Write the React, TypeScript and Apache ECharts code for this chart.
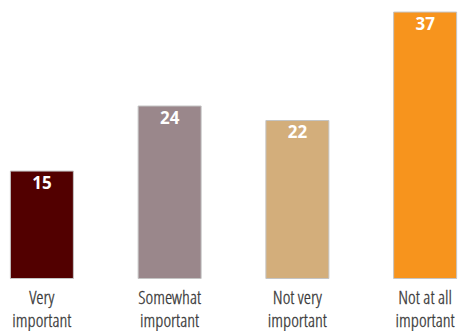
import React, { useEffect, useRef } from "react";
import * as echarts from "echarts";

const categories = ["Very\nimportant", "Somewhat\nimportant", "Not very\nimportant", "Not at all\nimportant"];
const values = [15, 24, 22, 37];
const colors = ["#520000", "#9a878b", "#d3ae7b", "#f7941d"];

export default function App() {
  const ref = useRef<HTMLDivElement>(null);
  useEffect(() => {
    const chart = echarts.init(ref.current!, null, { renderer: "svg" });
    chart.setOption({
      animation: false,
      grid: { left: -22, right: -31, top: 0, bottom: 52, containLabel: false, outerBoundsMode: "none" },
      xAxis: {
        type: "category",
        data: categories,
        axisLine: { show: false },
        axisTick: { show: false },
        axisLabel: {
          color: "#383838",
          fontSize: 18.5,
          lineHeight: 23,
          margin: 6,
          interval: 0,
          fontFamily: "'Open Sans Condensed Light', 'Open Sans', sans-serif",
          textBorderColor: "#383838",
          textBorderWidth: 0.3,
        },
      },
      yAxis: {
        type: "value",
        min: 0,
        max: 38.6,
        show: false,
        splitLine: { show: false },
      },
      series: [
        {
          type: "bar",
          barWidth: 64,
          data: values.map((v, i) => ({
            value: v,
            itemStyle: { color: colors[i], borderColor: "#c4c4c4", borderWidth: 1 },
          })),
          label: {
            show: true,
            position: "insideTop",
            distance: 3,
            color: "#ffffff",
            fontSize: 17,
            fontWeight: "bold",
            fontFamily: "'Noto Sans', sans-serif",
          },
        },
      ],
    });
    return () => chart.dispose();
  }, []);
  return <div ref={ref} style={{ width: 458, height: 331, position: "absolute", left: 0, top: 0 }} />;
}
